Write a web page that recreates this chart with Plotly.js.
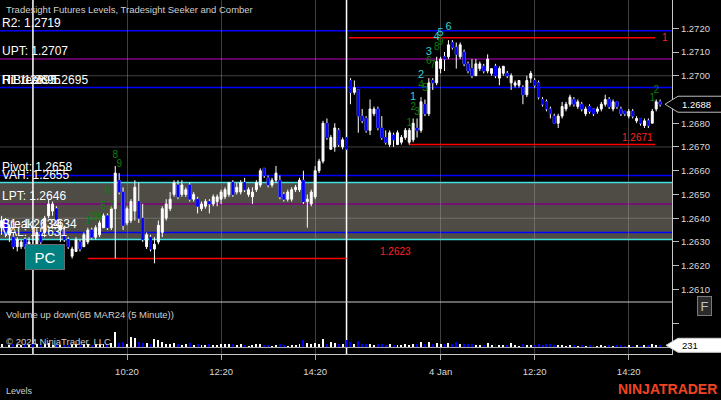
<!DOCTYPE html>
<html><head><meta charset="utf-8">
<script src="https://cdn.plot.ly/plotly-3.0.1.min.js"></script>
<style>html,body{margin:0;padding:0;background:#000;}#chart{width:721px;height:400px;}</style>
</head><body><div id="chart"></div>
<script>
// ---------- DATA (6B MAR24, 5 minute bars) ----------
const barOpen = [
1.2636,1.2639,1.2633,1.2632,1.2628,1.2628,1.2631,1.2628,1.2628,1.2628,
1.2634,1.2634,1.2641,1.2643,1.2644,1.2635,1.2635,1.2631,1.2624,1.2626,
1.2630,1.2628,1.2630,1.2635,1.2632,1.2633,1.2636,1.2641,1.2636,1.2644,
1.2656,1.2651,1.2638,1.2639,1.2643,1.2647,1.2640,1.2628,1.2632,1.2627,
1.2630,1.2634,1.2640,1.2644,1.2650,1.2654,1.2650,1.2650,1.2654,1.2648,
1.2648,1.2644,1.2645,1.2647,1.2646,1.2647,1.2648,1.2649,1.2650,1.2655,
1.2651,1.2651,1.2655,1.2650,1.2649,1.2652,1.2654,1.2661,1.2657,1.2654,
1.2656,1.2656,1.2650,1.2648,1.2648,1.2652,1.2652,1.2656,1.2647,1.2646,
1.2649,1.2660,1.2664,1.2680,1.2669,1.2670,1.2677,1.2670,1.2674,1.2698,
1.2693,1.2694,1.2683,1.2682,1.2677,1.2684,1.2686,1.2678,1.2674,1.2671,
1.2675,1.2671,1.2672,1.2674,1.2672,1.2673,1.2678,1.2677,1.2688,1.2684,
1.2698,1.2697,1.2703,1.2708,1.2708,1.2714,1.2712,1.2708,1.2710,1.2705,
1.2703,1.2700,1.2703,1.2704,1.2702,1.2701,1.2704,1.2699,1.2701,1.2701,
1.2697,1.2696,1.2696,1.2695,1.2692,1.2699,1.2698,1.2697,1.2690,1.2689,
1.2686,1.2683,1.2680,1.2683,1.2686,1.2688,1.2690,1.2687,1.2688,1.2684,
1.2687,1.2686,1.2685,1.2686,1.2688,1.2690,1.2686,1.2689,1.2686,1.2685,
1.2683,1.2685,1.2681,1.2682,1.2679,1.2681,1.2680,1.2686,1.2689];
const barHigh = [
1.2641,1.2640,1.2637,1.2634,1.2632,1.2631,1.2632,1.2632,1.2629,1.2636,
1.2636,1.2641,1.2648,1.2647,1.2645,1.2639,1.2636,1.2632,1.2628,1.2632,
1.2631,1.2634,1.2636,1.2636,1.2637,1.2639,1.2642,1.2642,1.2645,1.2662,
1.2659,1.2653,1.2645,1.2648,1.2656,1.2655,1.2646,1.2634,1.2633,1.2632,
1.2639,1.2645,1.2648,1.2651,1.2656,1.2656,1.2656,1.2653,1.2655,1.2651,
1.2649,1.2647,1.2648,1.2648,1.2650,1.2650,1.2652,1.2653,1.2655,1.2656,
1.2655,1.2656,1.2657,1.2653,1.2653,1.2656,1.2661,1.2661,1.2658,1.2657,
1.2662,1.2658,1.2651,1.2652,1.2653,1.2654,1.2657,1.2660,1.2650,1.2652,
1.2662,1.2665,1.2681,1.2682,1.2675,1.2680,1.2678,1.2674,1.2675,1.2699,
1.2698,1.2694,1.2686,1.2683,1.2690,1.2687,1.2687,1.2683,1.2677,1.2677,
1.2676,1.2677,1.2675,1.2678,1.2678,1.2682,1.2682,1.2691,1.2690,1.2699,
1.2699,1.2708,1.2708,1.2710,1.2715,1.2715,1.2714,1.2714,1.2711,1.2706,
1.2707,1.2707,1.2706,1.2705,1.2709,1.2703,1.2705,1.2704,1.2704,1.2702,
1.2701,1.2698,1.2698,1.2696,1.2700,1.2702,1.2699,1.2698,1.2691,1.2690,
1.2687,1.2684,1.2684,1.2689,1.2689,1.2692,1.2691,1.2690,1.2689,1.2687,
1.2688,1.2686,1.2687,1.2689,1.2692,1.2691,1.2690,1.2689,1.2687,1.2685,
1.2686,1.2686,1.2683,1.2682,1.2682,1.2682,1.2686,1.2690,1.2690];
const barLow = [
1.2633,1.2632,1.2630,1.2627,1.2626,1.2627,1.2627,1.2626,1.2626,1.2627,
1.2628,1.2632,1.2640,1.2641,1.2637,1.2630,1.2630,1.2627,1.2623,1.2626,
1.2626,1.2628,1.2629,1.2631,1.2631,1.2632,1.2636,1.2635,1.2635,1.2623,
1.2650,1.2635,1.2637,1.2638,1.2639,1.2638,1.2630,1.2627,1.2626,1.2621,
1.2629,1.2632,1.2639,1.2643,1.2649,1.2648,1.2649,1.2649,1.2647,1.2647,
1.2642,1.2643,1.2644,1.2642,1.2645,1.2645,1.2646,1.2648,1.2649,1.2649,
1.2650,1.2650,1.2651,1.2649,1.2646,1.2651,1.2653,1.2657,1.2653,1.2653,
1.2655,1.2648,1.2647,1.2647,1.2647,1.2651,1.2651,1.2646,1.2636,1.2645,
1.2648,1.2659,1.2663,1.2673,1.2669,1.2668,1.2670,1.2669,1.2669,1.2688,
1.2692,1.2676,1.2680,1.2676,1.2675,1.2683,1.2677,1.2673,1.2671,1.2670,
1.2670,1.2671,1.2671,1.2673,1.2671,1.2672,1.2674,1.2676,1.2683,1.2683,
1.2694,1.2696,1.2701,1.2702,1.2707,1.2711,1.2703,1.2707,1.2704,1.2701,
1.2699,1.2700,1.2702,1.2701,1.2701,1.2700,1.2699,1.2696,1.2700,1.2699,
1.2694,1.2695,1.2695,1.2688,1.2691,1.2697,1.2695,1.2690,1.2687,1.2685,
1.2682,1.2680,1.2678,1.2682,1.2685,1.2687,1.2687,1.2686,1.2685,1.2683,
1.2684,1.2683,1.2684,1.2685,1.2687,1.2686,1.2685,1.2686,1.2683,1.2683,
1.2682,1.2682,1.2680,1.2679,1.2678,1.2678,1.2680,1.2685,1.2687];
const barClose = [
1.2639,1.2633,1.2636,1.2628,1.2631,1.2630,1.2628,1.2630,1.2627,1.2634,
1.2630,1.2640,1.2646,1.2646,1.2638,1.2637,1.2631,1.2628,1.2627,1.2631,
1.2627,1.2633,1.2635,1.2632,1.2636,1.2638,1.2641,1.2636,1.2644,1.2659,
1.2651,1.2637,1.2644,1.2647,1.2653,1.2640,1.2631,1.2633,1.2627,1.2629,
1.2637,1.2644,1.2646,1.2648,1.2655,1.2649,1.2654,1.2652,1.2648,1.2650,
1.2645,1.2646,1.2647,1.2646,1.2649,1.2649,1.2651,1.2652,1.2655,1.2650,
1.2653,1.2655,1.2652,1.2652,1.2651,1.2655,1.2660,1.2658,1.2654,1.2656,
1.2659,1.2649,1.2648,1.2651,1.2652,1.2653,1.2656,1.2647,1.2648,1.2651,
1.2660,1.2664,1.2680,1.2674,1.2674,1.2678,1.2671,1.2673,1.2669,1.2693,
1.2695,1.2683,1.2681,1.2677,1.2686,1.2686,1.2678,1.2674,1.2672,1.2676,
1.2673,1.2676,1.2674,1.2677,1.2677,1.2680,1.2677,1.2689,1.2684,1.2697,
1.2697,1.2706,1.2707,1.2707,1.2713,1.2712,1.2709,1.2713,1.2705,1.2702,
1.2700,1.2705,1.2705,1.2702,1.2707,1.2703,1.2700,1.2703,1.2704,1.2700,
1.2700,1.2697,1.2698,1.2692,1.2698,1.2701,1.2696,1.2691,1.2688,1.2686,
1.2684,1.2680,1.2683,1.2687,1.2688,1.2691,1.2688,1.2689,1.2686,1.2686,
1.2685,1.2684,1.2686,1.2688,1.2690,1.2687,1.2689,1.2687,1.2684,1.2684,
1.2685,1.2683,1.2682,1.2680,1.2681,1.2679,1.2685,1.2689,1.2688];
const barVolume = [
350,300,280,420,300,260,380,300,400,450,
380,420,500,300,350,300,320,300,450,400,
300,350,420,300,380,450,420,400,500,2000,
550,600,450,1300,1150,600,500,550,450,1000,
900,600,400,350,500,400,300,350,550,300,
350,250,300,450,300,280,350,400,350,400,
300,350,300,200,250,350,450,300,250,200,
300,350,250,200,300,250,350,950,500,450,
550,400,1000,450,600,500,450,400,950,600,
450,800,400,350,450,300,350,400,300,350,
300,250,300,350,300,400,350,650,450,600,
350,500,400,450,550,450,600,400,450,350,
400,300,250,300,500,250,350,300,250,300,
500,250,200,350,300,250,300,350,300,450,
350,300,250,300,200,250,300,200,250,200,
250,300,200,250,200,250,200,250,300,200,
250,200,250,200,250,300,350,300,231];

// time axis labels (bar index -> label)
const timeTickBars = [32, 56, 80, 112, 136, 160];
const timeTickLabels = ["10:20", "12:20", "14:20", "4 Jan", "12:20", "14:20"];
const sessionBreakBars = [8, 88];

// price axis ticks and grid levels
const priceTicks = [1.2610,1.2620,1.2630,1.2640,1.2650,1.2660,1.2670,1.2680,1.2690,1.2700,1.2710,1.2720];
const priceGridLevels = [1.2640, 1.2670, 1.2700];

// Tradesight Futures Levels
const levelLabels = ["R2: 1.2719","UPT: 1.2707","R1: 1.2695","Pivot: 1.2658","VAH: 1.2655","LPT: 1.2646","S1: 1.2634","VAL: 1.2631"];
const levelValues = [1.2719, 1.2707, 1.2695, 1.2658, 1.2655, 1.2646, 1.2634, 1.2631];
const levelColors = ["#0000ff","#800080","#0000ff","#0000ff","#40e0e0","#800080","#0000ff","#40e0e0"];
const extraLabels = ["Hi: 1.2695", "HiBreak: 1.2695", "Break: 1.2634"];
const extraValues = [1.2695, 1.2695, 1.2634];
const valueAreaLow = 1.2631, valueAreaHigh = 1.2655;

// Seeker / Comber swing lines
const swingValues = [1.2623, 1.2716, 1.2671];
const swingStartBars = [22, 88.6, 104];
const swingEndBars = [88, 166.7, 166.7];
const swingLabels = ["1.2623", "1", "1.2671"];
const swingLabelBars = [100.4, 169.2, 166.7];

// Seeker counts (green) and Comber counts (cyan)
const greenText  = ["1","2","3","4","5","6","7","8","9", "1","2","3","4","5","6","7","8","9", "1","2"];
const greenBars  = [22,23,24,25,26,27,28,29,30, 104,105,106,107,108,109,110,111,112, 166,167];
const greenPrice = [1.26388,1.26401,1.26401,1.26401,1.26451,1.26514,1.26451,1.26666,1.26628,
                    1.26797,1.26868,1.26847,1.26957,1.26948,1.27058,1.27045,1.27117,1.27142,
                    1.26906,1.26936];
const cyanText  = ["1","2","3","4","5","6"];
const cyanBars  = [105,107,109,111,112,114];
const cyanPrice = [1.26910,1.27003,1.27100,1.27163,1.27180,1.27205];

// ---------- BUILD ----------
const FONT = '"Liberation Sans", Arial, sans-serif';
const W = 721, H = 400, MR = 49, MB = 46;
const plotW = W - MR, plotH = H - MB;
const volPx = 52;
const volFrac = volPx / plotH;
const px = v => v / plotW;            // pixel x -> paper
const py = v => (plotH - v) / plotH;  // pixel y -> paper

const idx = barOpen.map((_, i) => i);
const isUp = barClose.map((c, i) => c >= barOpen[i]);
const downIdx = idx.filter(i => !isUp[i]);
const lastClose = barClose[barClose.length - 1];
const lastVol = barVolume[barVolume.length - 1];

const traces = [
  { type: 'candlestick', x: idx, open: barOpen, high: barHigh, low: barLow, close: barClose,
    xaxis: 'x', yaxis: 'y', hoverinfo: 'skip', showlegend: false, whiskerwidth: 0,
    increasing: { line: { color: '#ffffff', width: 1 }, fillcolor: '#ffffff' },
    decreasing: { line: { color: '#ffffff', width: 1 }, fillcolor: '#0000ff' } },
  { type: 'candlestick', x: downIdx, open: downIdx.map(i => barOpen[i]), high: downIdx.map(i => barOpen[i]),
    low: downIdx.map(i => barClose[i]), close: downIdx.map(i => barClose[i]),
    xaxis: 'x', yaxis: 'y', hoverinfo: 'skip', showlegend: false, whiskerwidth: 0,
    increasing: { line: { color: '#0000ff', width: 1 }, fillcolor: '#0000ff' },
    decreasing: { line: { color: '#0000ff', width: 1 }, fillcolor: '#0000ff' } },
  { type: 'bar', x: idx, y: barVolume, xaxis: 'x', yaxis: 'y2', width: 0.5, hoverinfo: 'skip', showlegend: false,
    marker: { color: isUp.map(u => u ? '#ffffff' : '#0000ff'), line: { width: 0 } } },
  { type: 'scatter', mode: 'text', x: greenBars, y: greenPrice, text: greenText, xaxis: 'x', yaxis: 'y',
    textfont: { family: FONT, size: 10, color: '#0b800b' }, hoverinfo: 'skip', showlegend: false },
  { type: 'scatter', mode: 'text', x: cyanBars, y: cyanPrice, text: cyanText, xaxis: 'x', yaxis: 'y',
    textfont: { family: FONT, size: 11, color: '#30d0d0' }, hoverinfo: 'skip', showlegend: false }
];

const shapes = [];
shapes.push({ type: 'rect', xref: 'paper', x0: 0, x1: 1, yref: 'y', y0: valueAreaLow, y1: valueAreaHigh,
  fillcolor: '#4e4c45', line: { width: 0 }, layer: 'below' });
priceGridLevels.forEach(v => shapes.push({ type: 'line', xref: 'paper', x0: 0, x1: 1, yref: 'y', y0: v, y1: v,
  line: { color: 'rgba(160,160,160,0.4)', width: 1 }, layer: 'below' }));
levelValues.forEach((v, i) => shapes.push({ type: 'line', xref: 'paper', x0: 0, x1: 1, yref: 'y', y0: v, y1: v,
  line: { color: levelColors[i], width: 1.5 }, layer: 'between' }));
swingValues.forEach((v, i) => shapes.push({ type: 'line', xref: 'x', x0: swingStartBars[i], x1: swingEndBars[i],
  yref: 'y', y0: v, y1: v, line: { color: '#ff0000', width: 1.5 }, layer: 'between' }));
sessionBreakBars.forEach(b => shapes.push({ type: 'line', xref: 'x', x0: b, x1: b, yref: 'paper', y0: 0, y1: 1,
  line: { color: '#ffffff', width: 1.5 }, layer: 'between' }));
shapes.push({ type: 'line', xref: 'paper', x0: 0, x1: 1, yref: 'paper', y0: volFrac, y1: volFrac,
  line: { color: '#c8c8c8', width: 1 }, layer: 'above' });
// last price tag
shapes.push({ type: 'path', xref: 'paper', xanchor: 1, xsizemode: 'pixel', yref: 'y', yanchor: lastClose, ysizemode: 'pixel',
  path: 'M -7,0 L 6,8 L 60,8 L 60,-8 L 6,-8 Z', fillcolor: '#000000', line: { color: '#bdbdbd', width: 1 }, layer: 'above' });
// last volume tag
shapes.push({ type: 'path', xref: 'paper', xanchor: 1, xsizemode: 'pixel', yref: 'y2', yanchor: lastVol, ysizemode: 'pixel',
  path: 'M -6,0 L 6,7 L 60,7 L 60,-7 L 6,-7 Z', fillcolor: '#ffffff', line: { color: '#cfcfcf', width: 1 }, layer: 'above' });

const annotations = [];
const txt = (o) => Object.assign({ showarrow: false, font: { family: FONT, size: 9.5, color: '#cfcfcf' } }, o);
annotations.push(txt({ xref: 'paper', yref: 'paper', x: px(4), y: py(10), xanchor: 'left', yanchor: 'middle',
  text: 'Tradesight Futures Levels, Tradesight Seeker and Comber' }));
levelLabels.forEach((t, i) => annotations.push(txt({ xref: 'paper', x: 0, xanchor: 'left', yref: 'y', y: levelValues[i],
  yanchor: 'bottom', yshift: -1, text: t, font: { family: FONT, size: 12, color: '#ffffff' } })));
extraLabels.forEach((t, i) => annotations.push(txt({ xref: 'paper', x: 0, xanchor: 'left', yref: 'y', y: extraValues[i],
  yanchor: 'bottom', yshift: -1, text: t, font: { family: FONT, size: 12, color: '#ffffff' } })));
swingLabels.forEach((t, i) => annotations.push(txt({ xref: 'x', x: swingLabelBars[i], yref: 'y', y: swingValues[i],
  xanchor: i === 2 ? 'right' : 'center', yanchor: i === 1 ? 'middle' : 'bottom', text: t,
  font: { family: FONT, size: 10, color: '#ff2020' } })));
annotations.push(txt({ xref: 'paper', yref: 'paper', x: px(25), y: py(270), text: 'PC', width: 36, height: 22,
  bgcolor: '#008080', bordercolor: '#6a6a6a', borderwidth: 1, font: { family: FONT, size: 15, color: '#ffffff' } }));
annotations.push(txt({ xref: 'paper', yref: 'paper', x: px(4), y: py(314), xanchor: 'left', yanchor: 'middle',
  text: 'Volume up down(6B MAR24 (5 Minute))' }));
annotations.push(txt({ xref: 'paper', yref: 'paper', x: px(4), y: py(341), xanchor: 'left', yanchor: 'middle',
  text: '© 2024 NinjaTrader, LLC' }));
annotations.push(txt({ xref: 'paper', yref: 'paper', x: px(712), y: py(316), text: 'F', width: 11, height: 16,
  bgcolor: '#2b2b2b', bordercolor: '#7a7a7a', borderwidth: 1, font: { family: FONT, size: 13, color: '#c0c0c0' } }));
annotations.push(txt({ xref: 'paper', x: 1, xanchor: 'left', xshift: 8, yref: 'y', y: lastClose, yanchor: 'middle',
  text: lastClose.toFixed(4), font: { family: FONT, size: 9.5, color: '#ffffff' } }));
annotations.push(txt({ xref: 'paper', x: 1, xanchor: 'left', xshift: 8, yref: 'y2', y: lastVol, yanchor: 'middle',
  text: String(lastVol), font: { family: FONT, size: 9.5, color: '#000000' } }));
annotations.push(txt({ xref: 'paper', yref: 'paper', x: px(4), y: py(391), xanchor: 'left', yanchor: 'middle',
  text: 'Levels', font: { family: FONT, size: 9, color: '#cfcfcf' } }));
annotations.push(txt({ xref: 'paper', yref: 'paper', x: px(719), y: py(389), xanchor: 'right', yanchor: 'middle',
  text: '<b>NINJATRADER</b>', font: { family: FONT, size: 14, color: '#ee4423' } }));

const yMinPx = plotH - volPx; // 302
const layout = {
  width: W, height: H, margin: { l: 0, r: MR, t: 0, b: MB, pad: 0 },
  paper_bgcolor: '#000000', plot_bgcolor: '#000000', showlegend: false,
  font: { family: FONT, color: '#cfcfcf' },
  xaxis: { range: [-0.4, 171.03], anchor: 'y2', tickvals: timeTickBars, ticktext: timeTickLabels,
    ticks: 'outside', ticklen: 5, tickcolor: '#aaaaaa', showline: true, linecolor: '#c8c8c8', linewidth: 1,
    showgrid: true, gridcolor: 'rgba(160,160,160,0.4)', gridwidth: 1, zeroline: false,
    tickfont: { family: FONT, size: 9.5, color: '#d8d8d8' }, ticklabelstandoff: 4,
    rangeslider: { visible: false }, fixedrange: true },
  yaxis: { domain: [volFrac, 1], range: [1.26047, 1.27319], side: 'right', anchor: 'x',
    tickvals: priceTicks, tickformat: '.4f', ticks: 'outside', ticklen: 6, tickcolor: '#bbbbbb',
    showline: true, linecolor: '#c8c8c8', linewidth: 1, showgrid: false, zeroline: false,
    tickfont: { family: FONT, size: 9.5, color: '#d8d8d8' }, fixedrange: true },
  yaxis2: { domain: [0, volFrac], range: [-900, 5850], side: 'right', anchor: 'x',
    tickvals: [3100], showticklabels: false, ticks: 'outside', ticklen: 6, tickcolor: '#bbbbbb',
    showline: true, linecolor: '#c8c8c8', linewidth: 1, showgrid: false,
    zeroline: true, zerolinecolor: '#a8a8a8', zerolinewidth: 1, fixedrange: true },
  bargap: 0, shapes: shapes, annotations: annotations
};

Plotly.newPlot('chart', traces, layout, { staticPlot: true, displayModeBar: false });
</script>
</body></html>
